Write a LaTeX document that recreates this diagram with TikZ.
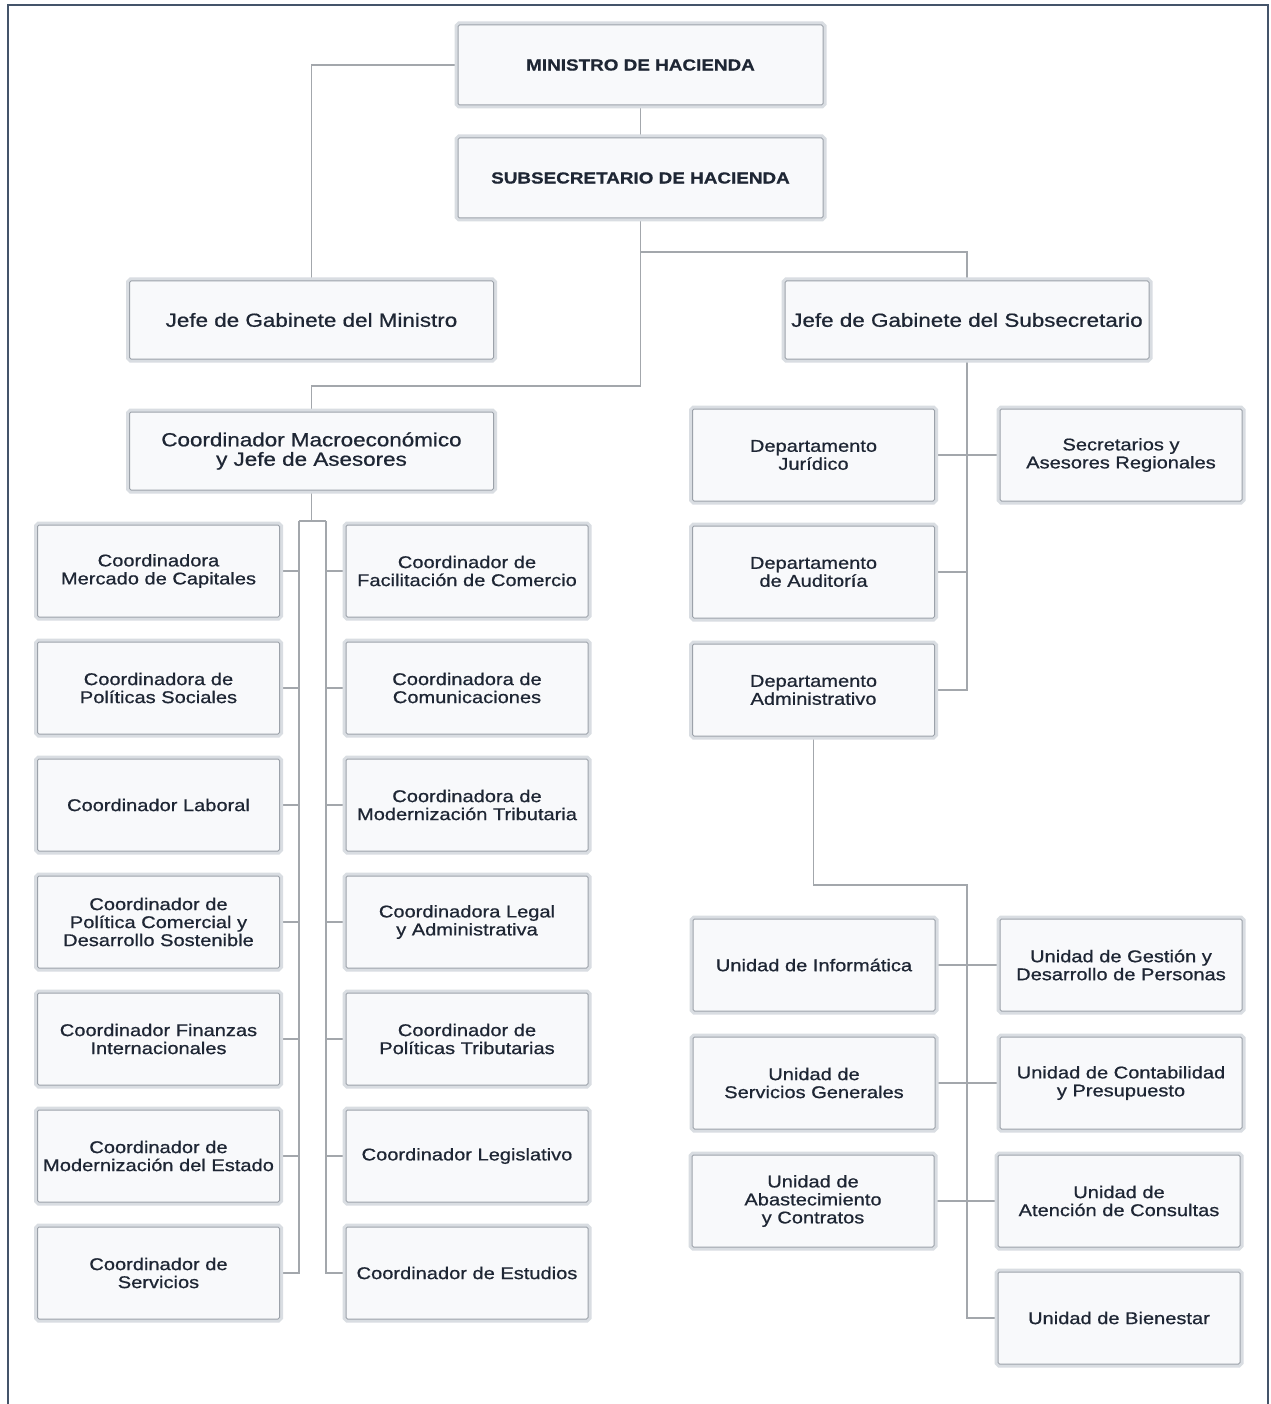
\documentclass[tikz,border=0pt]{standalone}
\usepackage{fontspec}
\setmainfont{Liberation Sans}[FakeStretch=1.18, FakeBold=0.8]
\usetikzlibrary{backgrounds}
\definecolor{boxfill}{HTML}{F8F9FB}
\definecolor{boxline}{HTML}{9CA2AA}
\definecolor{halo}{HTML}{D9DDE2}
\definecolor{lineclr}{HTML}{A3A7AC}
\definecolor{txt}{HTML}{1E2634}
\definecolor{frameclr}{HTML}{44546A}
\tikzset{
  box/.style={draw=boxline, line width=1pt, fill=boxfill, rounded corners=1.5pt,
    inner sep=0pt, align=center, text=txt, font=\fontsize{17}{18}\selectfont,
    preaction={draw=halo, line width=7pt, rounded corners=2pt}},
  unitbox/.style={box, minimum width=242pt, minimum height=92pt},
  bigbox/.style={box, minimum width=364pt, minimum height=78pt, font=\fontsize{19}{19.5}\selectfont},
  topbox/.style={box, minimum width=365pt, minimum height=80pt, font=\fontsize{16}{17}\selectfont\bfseries},
  conn/.style={draw=lineclr, line width=1.1pt}
}
\begin{document}
\begin{tikzpicture}[x=1pt,y=-1pt]
\useasboundingbox (0,0) rectangle (1270,1404);

% top
\node[topbox] (min) at (640.5,65) {MINISTRO DE HACIENDA};
\node[topbox] (sub) at (640.5,178) {SUBSECRETARIO DE HACIENDA};
\node[bigbox] (jgm) at (311.5,320) {Jefe de Gabinete del Ministro};
\node[bigbox] (jgs) at (967,320) {Jefe de Gabinete del Subsecretario};
\node[bigbox] (mac) at (311.5,451) {Coordinador Macroeconómico\\y Jefe de Asesores};

% left columns
\node[unitbox] (l1) at (158.5,571) {Coordinadora\\Mercado de Capitales};
\node[unitbox] (l2) at (158.5,688) {Coordinadora de\\Políticas Sociales};
\node[unitbox] (l3) at (158.5,805) {Coordinador Laboral};
\node[unitbox] (l4) at (158.5,922) {Coordinador de\\Política Comercial y\\Desarrollo Sostenible};
\node[unitbox] (l5) at (158.5,1039) {Coordinador Finanzas\\Internacionales};
\node[unitbox] (l6) at (158.5,1156) {Coordinador de\\Modernización del Estado};
\node[unitbox] (l7) at (158.5,1273) {Coordinador de\\Servicios};

\node[unitbox] (r1) at (467,571) {Coordinador de\\Facilitación de Comercio};
\node[unitbox] (r2) at (467,688) {Coordinadora de\\Comunicaciones};
\node[unitbox] (r3) at (467,805) {Coordinadora de\\Modernización Tributaria};
\node[unitbox] (r4) at (467,922) {Coordinadora Legal\\y Administrativa};
\node[unitbox] (r5) at (467,1039) {Coordinador de\\Políticas Tributarias};
\node[unitbox] (r6) at (467,1156) {Coordinador Legislativo};
\node[unitbox] (r7) at (467,1273) {Coordinador de Estudios};

% right side
\node[unitbox] (jur) at (813.5,455) {Departamento\\Jurídico};
\node[unitbox] (sec) at (1121,455) {Secretarios y\\Asesores Regionales};
\node[unitbox] (aud) at (813.5,572) {Departamento\\de Auditoría};
\node[unitbox] (adm) at (813.5,690) {Departamento\\Administrativo};

\node[unitbox] (inf) at (814,965) {Unidad de Informática};
\node[unitbox] (ges) at (1121,965) {Unidad de Gestión y\\Desarrollo de Personas};
\node[unitbox] (sgen) at (814,1083) {Unidad de\\Servicios Generales};
\node[unitbox] (con) at (1121,1083) {Unidad de Contabilidad\\y Presupuesto};
\node[unitbox] (aba) at (813,1201) {Unidad de\\Abastecimiento\\y Contratos};
\node[unitbox] (ate) at (1119,1201) {Unidad de\\Atención de Consultas};
\node[unitbox] (bie) at (1119,1318) {Unidad de Bienestar};

\coordinate (lx) at (299,0);
\coordinate (rx) at (326,0);
\coordinate (mx) at (967,0);

\begin{scope}[on background layer]
\fill[white] (0,0) rectangle (1270,1404);
\draw[frameclr, line width=2pt] (8,1406) -- (8,5) -- (1268,5) -- (1268,1406);
\draw[conn] (min.west) -| (jgm.north);
\draw[conn] (min.south) -- (sub.north);
\draw[conn] (sub.south) -- (640.5,386) -| (mac.north);
\draw[conn] (640.5,252) -| (jgs.north);
% macro children
\draw[conn] (mac.south) -- (311.5,521);
\draw[conn] (lx |- 0,521) -- (rx |- 0,521);
\draw[conn] (lx |- 0,521) |- (l7.east);
\draw[conn] (rx |- 0,521) |- (r7.west);
\foreach \n in {l1,l2,l3,l4,l5,l6} \draw[conn] (\n.east) -- (lx |- \n.east);
\foreach \n in {r1,r2,r3,r4,r5,r6} \draw[conn] (\n.west) -- (rx |- \n.west);
% subsecretario cabinet
\draw[conn] (jgs.south) |- (adm.east);
\draw[conn] (jur.east) -- (sec.west);
\draw[conn] (aud.east) -- (mx |- aud.east);
% administrative
\draw[conn] (adm.south) -- (813.5,885) -- (967,885) |- (bie.west);
\draw[conn] (inf.east) -- (ges.west);
\draw[conn] (sgen.east) -- (con.west);
\draw[conn] (aba.east) -- (ate.west);
\end{scope}
\end{tikzpicture}
\end{document}
